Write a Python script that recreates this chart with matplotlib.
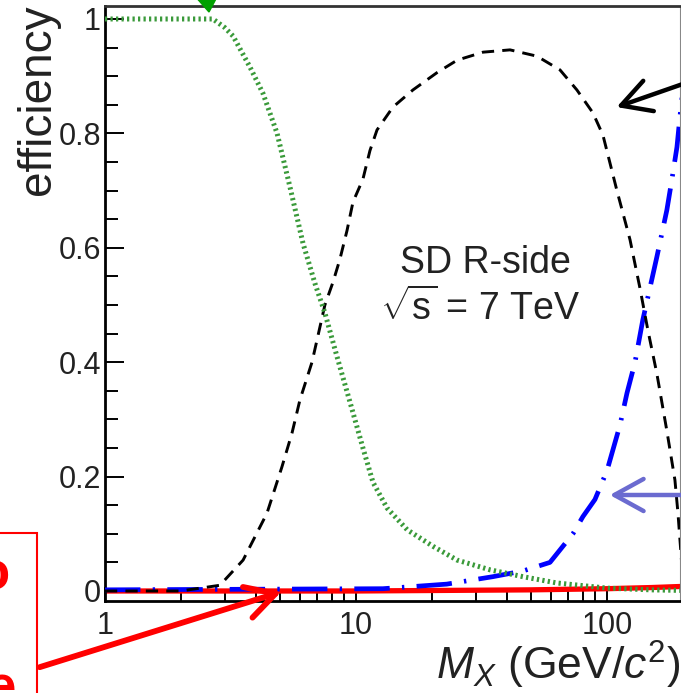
import matplotlib
matplotlib.use("Agg")
import matplotlib.pyplot as plt
from matplotlib.patches import FancyArrowPatch, Polygon, Rectangle
from matplotlib.ticker import FixedLocator, NullFormatter

plt.rcParams["font.family"] = ["Liberation Sans", "DejaVu Sans"]
plt.rcParams["mathtext.fontset"] = "custom"
plt.rcParams["mathtext.rm"] = "Liberation Sans"
plt.rcParams["mathtext.it"] = "Liberation Sans:italic"

# =============================================================================
# data
# =============================================================================
mass_black = [1, 2.0, 2.87, 3.55, 4.42, 5.07, 5.56, 5.98, 6.68, 7.52, 8.10, 8.63,
              9.21, 9.73, 10.66, 11.37, 12.13, 14.04, 16.87, 21.0, 25.3, 32.1,
              41.1, 52.6, 65.0, 75.9, 87.9, 96.4, 109.6, 123.6, 135.3, 145.6,
              158.1, 173.3, 186.6, 191.9, 200]
eff_black = [0, 0, 0.01, 0.054, 0.136, 0.217, 0.276, 0.334, 0.40, 0.50, 0.54, 0.58,
             0.63, 0.68, 0.72, 0.77, 0.806, 0.846, 0.876, 0.906, 0.928, 0.942,
             0.946, 0.935, 0.911, 0.876, 0.836, 0.797, 0.70, 0.614, 0.53, 0.456,
             0.38, 0.28, 0.194, 0.136, 0.03]

mass_green = [1, 2.69, 3.0, 3.24, 3.78, 4.26, 4.85, 5.46, 6.15, 6.86, 7.52, 8.40,
              9.47, 10.66, 11.69, 13.3, 16.0, 20.3, 25.3, 34.2, 46.3, 63.2, 100,
              150, 200]
eff_green = [1.0, 1.0, 0.985, 0.97, 0.916, 0.87, 0.80, 0.706, 0.608, 0.538, 0.486,
             0.41, 0.33, 0.25, 0.19, 0.145, 0.107, 0.078, 0.054, 0.037, 0.025,
             0.014, 0.005, 0.002, 0.001]

mass_blue = [1, 12.8, 23.0, 35.1, 46.3, 59.3, 73.2, 80.2, 89.6, 100, 112.7, 120.2,
             129.4, 139.0, 148.4, 158.1, 173.3, 181.6, 190.1, 195.5, 200]
eff_blue = [0.002, 0.004, 0.012, 0.025, 0.035, 0.05, 0.10, 0.13, 0.16, 0.21, 0.29,
            0.346, 0.40, 0.474, 0.53, 0.584, 0.666, 0.72, 0.776, 0.83, 0.87]

mass_red = [1, 10, 50, 100, 150, 200]
eff_red = [0.0, 0.0, 0.002, 0.004, 0.006, 0.008]

x_major = [1, 10, 100]
x_major_labels = ["1", "10", "100"]
y_major = [0, 0.2, 0.4, 0.6, 0.8, 1.0]
y_major_labels = ["0", "0.2", "0.4", "0.6", "0.8", "1"]

W, H = 681, 693


def px(x, y):
    """pixel position (from top-left) -> figure fraction"""
    return (x / W, 1 - y / H)


fig = plt.figure(figsize=(W / 100, H / 100), dpi=100)
ax = fig.add_axes([105 / W, (H - 601) / H, 575 / W, 595 / H])

ax.plot(mass_red, eff_red, color="#ff0000", lw=3.8, solid_capstyle="butt", zorder=2)
ax.plot(mass_blue, eff_blue, color="#0000ff", lw=3.4, dashes=(7.5, 2.6, 0.5, 2.6),
        zorder=3)
ax.plot(mass_black, eff_black, color="black", lw=2.1, dashes=(4.2, 2.8), zorder=4)
ax.plot(mass_green, eff_green, color="#3a9a3a", lw=3.6, dashes=(0.45, 0.65), zorder=5)

ax.set_xscale("log")
ax.set_xlim(1, 195.5)
ax.set_ylim(-0.0175, 1.0227)

ax.xaxis.set_major_locator(FixedLocator(x_major))
ax.set_xticklabels(x_major_labels)
ax.xaxis.set_minor_locator(FixedLocator([m * d for d in (1, 10, 100) for m in range(2, 10)]))
ax.xaxis.set_minor_formatter(NullFormatter())
ax.set_yticks(y_major)
ax.set_yticklabels(y_major_labels)
ax.yaxis.set_minor_locator(FixedLocator([i * 0.05 for i in range(21)]))

ax.tick_params(axis="both", which="both", direction="in", width=1.4,
               labelsize=22, labelcolor="#222222", top=False, right=False)
ax.tick_params(axis="y", which="major", length=14, pad=3)
ax.tick_params(axis="y", which="minor", length=9)
ax.tick_params(axis="x", which="major", length=10, pad=7)
ax.tick_params(axis="x", which="minor", length=7)

for side in ("left", "bottom"):
    ax.spines[side].set_linewidth(2.0)
    ax.spines[side].set_color("black")
ax.spines["top"].set_linewidth(2.0)
ax.spines["top"].set_color("#333333")
ax.spines["right"].set_linewidth(0.8)
ax.spines["right"].set_color("#888888")

# labels and texts
fig.text(*px(38, 195), "efficiency", rotation=90, ha="center", va="bottom",
         fontsize=33, color="#222222")
fig.text(*px(680, 680), r"$M_X$ (GeV/$c^2$)", ha="right", va="baseline",
         fontsize=32, color="#222222")
fig.text(*px(400, 273), "SD R-side", ha="left", va="baseline", fontsize=27,
         color="#222222")
fig.text(*px(380, 320), r"$\sqrt{\mathrm{s}}$ = 7 TeV", ha="left", va="baseline",
         fontsize=27, color="#222222")

# overlay annotations (arrows, red box)
def arrow(p0, p1, color, lw, scale):
    a = FancyArrowPatch(px(*p0), px(*p1), transform=fig.transFigure,
                        arrowstyle="->,head_length=1.0,head_width=0.55",
                        mutation_scale=scale, lw=lw, color=color,
                        capstyle="round", joinstyle="round")
    fig.add_artist(a)


arrow((700, 78), (614, 108), "black", 3.2, 21)
arrow((700, 495), (607, 495), "#6b6bd0", 3.2, 21)
arrow((37, 668), (284, 591), "#ff0000", 4.2, 21)

tri = Polygon([px(194, -5), px(218, -5), px(209, 12)], closed=True,
              transform=fig.transFigure, color="#00a000")
fig.add_artist(tri)

box = Rectangle(px(-20, 720), 57 / W, 187 / H, transform=fig.transFigure,
                fill=False, edgecolor="#ff0000", lw=1.5)
fig.add_artist(box)
fig.text(*px(10, 590), "o", ha="right", va="baseline", fontsize=38,
         fontweight="bold", color="#ff0000")
fig.text(*px(16, 703), "e", ha="right", va="baseline", fontsize=38,
         fontweight="bold", color="#ff0000")

fig.savefig("out.png", dpi=100, facecolor="white")
